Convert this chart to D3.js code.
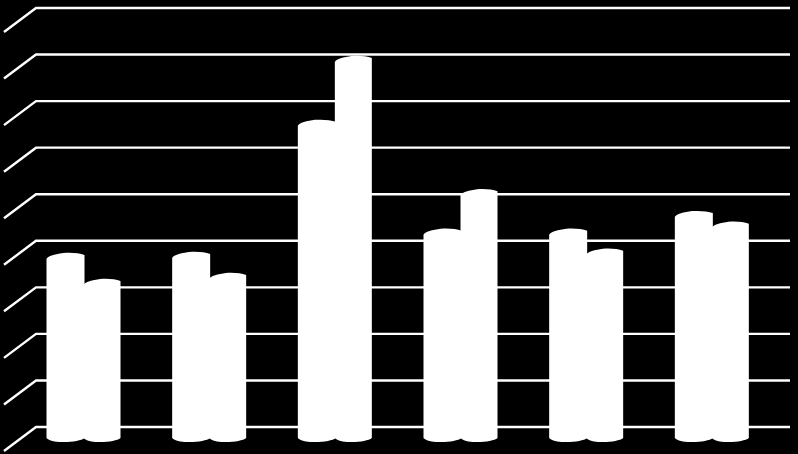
<!DOCTYPE html>
<html>
<head>
<meta charset="utf-8">
<script src="https://cdn.jsdelivr.net/npm/d3@7"></script>
<style>
  html, body { margin: 0; padding: 0; background: #000; }
  svg { display: block; }
</style>
</head>
<body>
<div id="chart"></div>
<script>
const categories = ["A", "B", "C", "D", "E", "F"];
const seriesNames = ["s1", "s2"];
const series1 = [39.1, 39.3, 67.7, 44.3, 44.3, 48.1];
const series2 = [33.5, 34.8, 81.4, 52.8, 40.0, 45.8];
const gridTicks = [0, 10, 20, 30, 40, 50, 60, 70, 80, 90];

const width = 798, height = 454;
// back wall of the 3d box, floor is pushed down-left by depth
const plot = { left: 36, right: 790, top: 8, bottom: 427 };
const depth = { x: 32, y: 24 };

const svg = d3.select("#chart").append("svg")
    .attr("width", width)
    .attr("height", height)
    .style("background", "#000");

const x = d3.scaleBand().domain(categories).range([plot.left, plot.right]);
const inner = d3.scaleBand().domain(seriesNames).range([0, 74]);
const y = d3.scaleLinear().domain([0, 90]).range([plot.bottom, plot.top]);

// grid lines, wall part plus the diagonal on the side
svg.selectAll(".grid")
    .data(gridTicks)
    .enter()
    .append("polyline")
    .attr("class", "grid")
    .attr("fill", "none")
    .attr("stroke", "#fff")
    .attr("stroke-width", 2.4)
    .attr("points", d => [
        [plot.left - depth.x, y(d) + depth.y],
        [plot.left, y(d)],
        [plot.right, y(d)]
    ].join(" "));

// cylinder outline, top is a tilted ellipse so the left shoulder sits lower
function cylinder(x0, w, v) {
    const apex = y(v) + depth.y / 2 - 4;
    const bot = y(0) + depth.y / 2;
    const x1 = x0 + w;
    const p = d3.path();
    p.moveTo(x0, apex + 6);
    p.bezierCurveTo(x0 + 1, apex + 3, x0 + w * 0.25, apex + 1, x0 + w * 0.45, apex);
    p.bezierCurveTo(x0 + w * 0.65, apex - 0.5, x1 - 5, apex, x1, apex + 2);
    p.lineTo(x1, bot - 1);
    p.bezierCurveTo(x1 - 3, bot + 1.5, x1 - w * 0.3, bot + 3, x0 + w * 0.45, bot + 3);
    p.bezierCurveTo(x0 + w * 0.25, bot + 3.3, x0 + 3, bot + 2, x0, bot - 1);
    p.closePath();
    return p.toString();
}

const rows = categories.map((c, i) => [
    { cat: c, s: "s1", v: series1[i] },
    { cat: c, s: "s2", v: series2[i] }
]).flat();

const barX = d => x(d.cat) + 10.5 + inner(d.s);

svg.selectAll(".bar")
    .data(rows)
    .enter()
    .append("path")
    .attr("class", "bar")
    .attr("fill", "#fff")
    .attr("d", d => cylinder(barX(d), inner.bandwidth() + (d.s === "s1" ? 1 : 0), d.v));
</script>
</body>
</html>
